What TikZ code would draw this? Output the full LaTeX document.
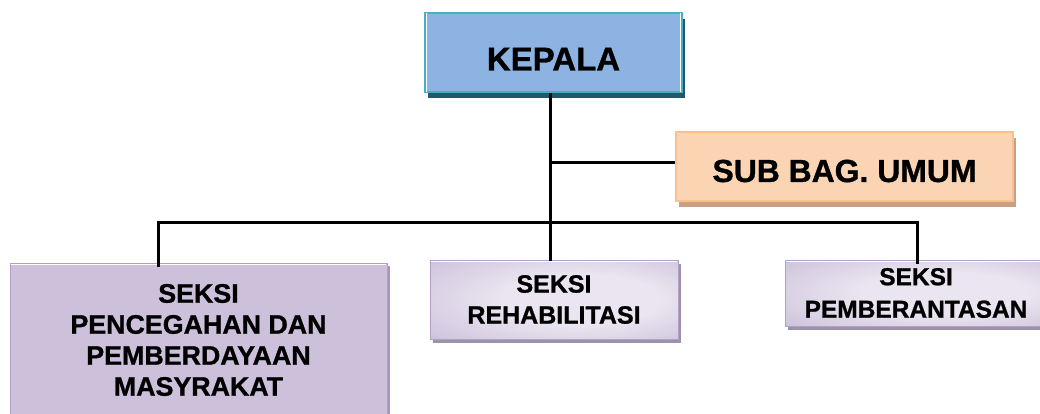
\documentclass[tikz,border=0pt]{standalone}
\usepackage{fontspec}
\setmainfont[BoldFeatures={FakeBold=1}]{Liberation Sans}
\usetikzlibrary{shadows}
\definecolor{kepfill}{HTML}{8DB3E2}
\definecolor{kepborder}{HTML}{4BACC6}
\definecolor{kepshadow}{HTML}{215968}
\definecolor{subfill}{HTML}{FBD4B4}
\definecolor{subborder}{HTML}{FAC090}
\definecolor{subshadow}{HTML}{C9A083}
\definecolor{lavfill}{HTML}{CCC0DA}
\definecolor{lavborder}{HTML}{B1A0C7}
\definecolor{lavshadow}{HTML}{A596BA}
\definecolor{lavlight}{HTML}{EAE5F0}
\definecolor{lavmid}{HTML}{D2C8DF}
\definecolor{lavdark}{HTML}{AE9CC5}
\definecolor{grayshadow}{HTML}{9D93A8}
\pgfdeclareradialshading{lavrad}{\pgfpoint{8bp}{0bp}}{color(0bp)=(lavlight); color(16bp)=(lavlight); color(34bp)=(lavmid); color(50bp)=(lavdark)}
\tikzset{
  box/.style={rectangle, inner sep=0pt, align=center, font=\bfseries},
  conn/.style={line width=3pt, black},
  hl/.style={white, line width=1.5pt},
}
\begin{document}
\begin{tikzpicture}[x=1pt, y=-1pt]
\useasboundingbox (0,0) rectangle (1040,414);
\begin{scope}
\clip (0,0) rectangle (1040,414);
% KEPALA
\node[box, fill=kepfill, draw=kepborder, line width=2pt,
  general shadow={fill=kepshadow, shadow xshift=3pt, shadow yshift=-6pt},
  minimum width=257pt, minimum height=79pt,
  font=\bfseries\fontsize{33}{38}\selectfont, text height=36pt, text depth=0pt]
  (kepala) at (553.5,52.5) {KEPALA};
\draw[hl] ([xshift=2.5pt,yshift=-1pt]kepala.north west) -- ([xshift=2.5pt,yshift=1pt]kepala.south west);
\draw[hl] ([xshift=-2.5pt,yshift=-1pt]kepala.north east) -- ([xshift=-2.5pt,yshift=1pt]kepala.south east);
% SUB BAG
\node[box, fill=subfill, draw=subborder, line width=1.5pt,
  general shadow={fill=subshadow, shadow xshift=3pt, shadow yshift=-6pt},
  minimum width=337pt, minimum height=69pt,
  font=\bfseries\fontsize{31.9}{36}\selectfont, text height=31pt, text depth=0pt]
  (subbag) at (844.5,166.5) {SUB BAG. UMUM};
% Left box
\node[box, fill=lavfill, draw=lavborder, line width=1pt,
  general shadow={fill=lavshadow, shadow xshift=3pt, shadow yshift=-3pt},
  minimum width=377pt, minimum height=154pt,
  font=\bfseries\fontsize{26.8}{31}\selectfont]
  (left) at (198.5,340) {SEKSI\\PENCEGAHAN DAN\\PEMBERDAYAAN\\MASYRAKAT};
\draw[white, line width=1.2pt] ([xshift=1.5pt,yshift=-2pt]left.north west) -- ([xshift=-1.5pt,yshift=-2pt]left.north east);
% Middle box
\node[box, shading=lavrad, draw=lavborder, line width=1pt,
  general shadow={fill=grayshadow, shadow xshift=3pt, shadow yshift=-4pt},
  minimum width=248pt, minimum height=79pt,
  font=\bfseries\fontsize{25}{31}\selectfont]
  (mid) at (554,299.5) {SEKSI\\REHABILITASI};
\draw[white, line width=1.2pt] ([xshift=1.5pt,yshift=-2pt]mid.north west) -- ([xshift=-1.5pt,yshift=-2pt]mid.north east);
% Right box
\node[box, shading=lavrad, draw=lavborder, line width=1pt,
  general shadow={fill=grayshadow, shadow xshift=3pt, shadow yshift=-4pt},
  minimum width=262pt, minimum height=66pt,
  font=\bfseries\fontsize{24.5}{32.5}\selectfont]
  (right) at (916,293) {SEKSI\\PEMBERANTASAN};
\draw[white, line width=1.2pt] ([xshift=1.5pt,yshift=-2pt]right.north west) -- ([xshift=-1.5pt,yshift=-2pt]right.north east);
\end{scope}
% connectors
\coordinate (t) at (550,222);
\coordinate (bl) at (158,222);
\coordinate (br) at (917,222);
\coordinate (tb) at (550,163);
\draw[conn] (kepala.south -| t) -- ([yshift=-1pt]mid.north -| t);
\draw[conn] (tb) -- (tb -| subbag.west);
\draw[conn, line cap=rect] ([yshift=-3pt]left.north -| bl) -- (bl) -- (br) -- ([yshift=-3pt]right.north -| br);
\end{tikzpicture}
\end{document}
